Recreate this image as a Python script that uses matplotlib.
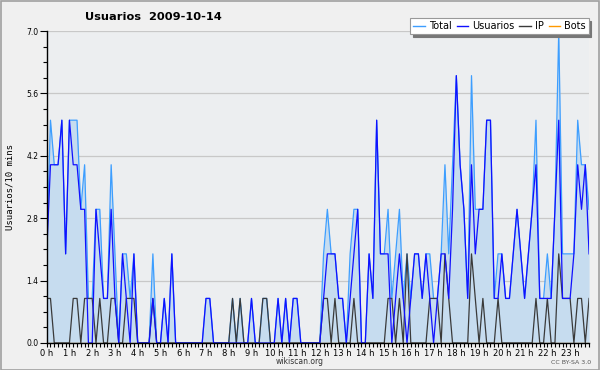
import matplotlib
matplotlib.use("Agg")
import matplotlib.pyplot as plt
from matplotlib.patches import Rectangle

# 10-minute slots, 6 per hour (one row of the lists = 4 hours)
hour_labels = [f"{h} h" for h in range(24)]

total = [
    2, 5, 4, 4, 5, 2,  5, 5, 5, 3, 4, 1,  1, 3, 3, 1, 1, 4,  2, 0, 2, 2, 1, 2,
    0, 0, 0, 0, 2, 0,  0, 1, 0, 2, 0, 0,  0, 0, 0, 0, 0, 0,  1, 1, 0, 0, 0, 0,
    0, 1, 0, 1, 0, 0,  1, 0, 0, 1, 1, 0,  0, 1, 0, 1, 0, 1,  1, 0, 0, 0, 0, 0,
    0, 2, 3, 2, 2, 1,  1, 0, 2, 3, 3, 0,  0, 2, 1, 5, 2, 2,  3, 1, 2, 3, 1, 2,
    1, 2, 2, 1, 2, 2,  1, 1, 2, 4, 2, 4,  6, 4, 3, 1, 6, 3,  3, 3, 5, 5, 1, 2,
    2, 1, 1, 2, 3, 2,  1, 2, 3, 5, 1, 1,  2, 1, 3, 7, 2, 2,  2, 2, 5, 4, 4, 3,
]
usuarios = [
    2, 4, 4, 4, 5, 2,  5, 4, 4, 3, 3, 0,  0, 3, 2, 1, 1, 3,  1, 0, 2, 1, 0, 2,
    0, 0, 0, 0, 1, 0,  0, 1, 0, 2, 0, 0,  0, 0, 0, 0, 0, 0,  1, 1, 0, 0, 0, 0,
    0, 0, 0, 0, 0, 0,  1, 0, 0, 0, 0, 0,  0, 1, 0, 1, 0, 1,  1, 0, 0, 0, 0, 0,
    0, 1, 2, 2, 2, 1,  1, 0, 1, 2, 3, 0,  0, 2, 1, 5, 2, 2,  2, 0, 1, 2, 1, 0,
    1, 2, 2, 1, 2, 1,  0, 1, 2, 2, 1, 3,  6, 4, 3, 1, 4, 2,  3, 3, 5, 5, 1, 1,
    2, 1, 1, 2, 3, 2,  1, 2, 3, 4, 1, 1,  1, 1, 3, 5, 1, 1,  1, 2, 4, 3, 4, 2,
]
ip = [
    1, 1, 0, 0, 0, 0,  0, 1, 1, 0, 1, 1,  1, 0, 1, 0, 0, 1,  1, 0, 0, 1, 1, 1,
    0, 0, 0, 0, 1, 0,  0, 0, 0, 0, 0, 0,  0, 0, 0, 0, 0, 0,  0, 0, 0, 0, 0, 0,
    0, 1, 0, 1, 0, 0,  0, 0, 0, 1, 1, 0,  0, 0, 0, 0, 0, 0,  0, 0, 0, 0, 0, 0,
    0, 1, 1, 0, 1, 0,  0, 0, 0, 1, 0, 0,  0, 0, 0, 0, 0, 0,  1, 1, 0, 1, 0, 2,
    0, 0, 0, 0, 0, 1,  1, 1, 0, 2, 1, 0,  0, 0, 0, 0, 2, 1,  0, 1, 0, 0, 0, 1,
    0, 0, 0, 0, 0, 0,  0, 0, 0, 1, 0, 0,  1, 0, 0, 2, 1, 1,  1, 0, 1, 1, 0, 1,
]
bots = [
    0, 0, 0, 0, 0, 0,  0, 0, 0, 0, 0, 0,  0, 0, 0, 0, 0, 0,  0, 0, 0, 0, 0, 0,
    0, 0, 0, 0, 0, 0,  0, 0, 0, 0, 0, 0,  0, 0, 0, 0, 0, 0,  0, 0, 0, 0, 0, 0,
    0, 0, 0, 0, 0, 0,  0, 0, 0, 0, 0, 0,  0, 0, 0, 0, 0, 0,  0, 0, 0, 0, 0, 0,
    0, 0, 0, 0, 0, 0,  0, 0, 0, 0, 0, 0,  0, 0, 0, 0, 0, 0,  0, 0, 0, 0, 0, 0,
    0, 0, 0, 0, 0, 0,  0, 0, 0, 0, 0, 0,  0, 0, 0, 0, 0, 0,  0, 0, 0, 0, 0, 0,
    0, 0, 0, 0, 0, 0,  0, 0, 0, 0, 0, 0,  0, 0, 0, 0, 0, 0,  0, 0, 0, 0, 0, 0,
]
y_ticks = [0.0, 1.4, 2.8, 4.2, 5.6, 7.0]

slots = list(range(len(total)))

C_TOTAL = "#3d9eff"
C_USER = "#1010ff"
C_IP = "#3a3a3a"
C_BOTS = "#ff9900"
C_FILL = "#c6dcef"

fig = plt.figure(figsize=(6.0, 3.7), dpi=100, facecolor="#f0f0f0")
ax = fig.add_axes([0.0778, 0.073, 0.904, 0.843])
ax.set_facecolor("#eceef0")

ax.fill_between(slots, 0, total, color=C_FILL, linewidth=0, zorder=1)
ax.plot(slots, bots, color=C_BOTS, lw=0.9, zorder=2)
ax.plot(slots, total, color=C_TOTAL, lw=0.9, zorder=3)
ax.plot(slots, ip, color=C_IP, lw=0.9, zorder=4)
ax.plot(slots, usuarios, color=C_USER, lw=0.9, zorder=5)

ax.set_xlim(0, len(total) - 1)
ax.set_ylim(0, 7.0)

ax.set_yticks(y_ticks)
ax.set_yticklabels([f"{v:.1f}" for v in y_ticks], fontsize=5.5)
ax.set_yticks([i * 0.35 for i in range(21)], minor=True)
ax.set_xticks(slots[::6])
ax.set_xticklabels(hour_labels, fontsize=6)
ax.set_xticks(slots, minor=True)

ax.tick_params(axis="y", which="major", length=5, width=0.8, pad=1, colors="#000000")
ax.tick_params(axis="y", which="minor", length=3, width=0.8)
ax.tick_params(axis="x", which="major", length=3, width=0.8, pad=1)
ax.tick_params(axis="x", which="minor", length=3, width=0.8)

ax.grid(axis="y", which="major", color="#c8c8c8", lw=0.9, zorder=0)
ax.set_axisbelow(True)
for s in ("top", "right"):
    ax.spines[s].set_visible(False)
for s in ("left", "bottom"):
    ax.spines[s].set_linewidth(1.0)
    ax.spines[s].set_zorder(6)

ax.set_ylabel("Usuarios/10 mins", fontsize=6.5, family="DejaVu Sans Mono", labelpad=6)
ax.yaxis.set_label_coords(-0.06, 0.5)

fig.text(0.142, 0.953, "Usuarios  2009-10-14", fontsize=8.2, fontweight="bold", va="center", ha="left")
fig.text(0.5, 0.022, "wikiscan.org", fontsize=5.5, ha="center", va="center", color="#333333")
fig.text(0.985, 0.02, "CC BY-SA 3.0", fontsize=4.5, ha="right", va="center", color="#555555")

handles = [
    plt.Line2D([], [], color=C_TOTAL, lw=1),
    plt.Line2D([], [], color=C_USER, lw=1),
    plt.Line2D([], [], color=C_IP, lw=1),
    plt.Line2D([], [], color=C_BOTS, lw=1),
]
leg = fig.legend(handles, ["Total", "Usuarios", "IP", "Bots"], loc="upper right",
                 bbox_to_anchor=(0.981, 0.95), ncol=4, fontsize=7, frameon=True,
                 fancybox=False, shadow={"color": "#777777", "alpha": 1.0},
                 handlelength=1.2, handletextpad=0.4, columnspacing=0.5,
                 borderpad=0.3, borderaxespad=0.0)
leg.get_frame().set_edgecolor("#999999")
leg.get_frame().set_linewidth(0.8)

fig.patches.append(Rectangle((0.001, 0.001), 0.997, 0.997, transform=fig.transFigure,
                             fill=False, edgecolor="#a0a0a0", lw=1.2))

fig.savefig("out.png", dpi=100, facecolor=fig.get_facecolor())
